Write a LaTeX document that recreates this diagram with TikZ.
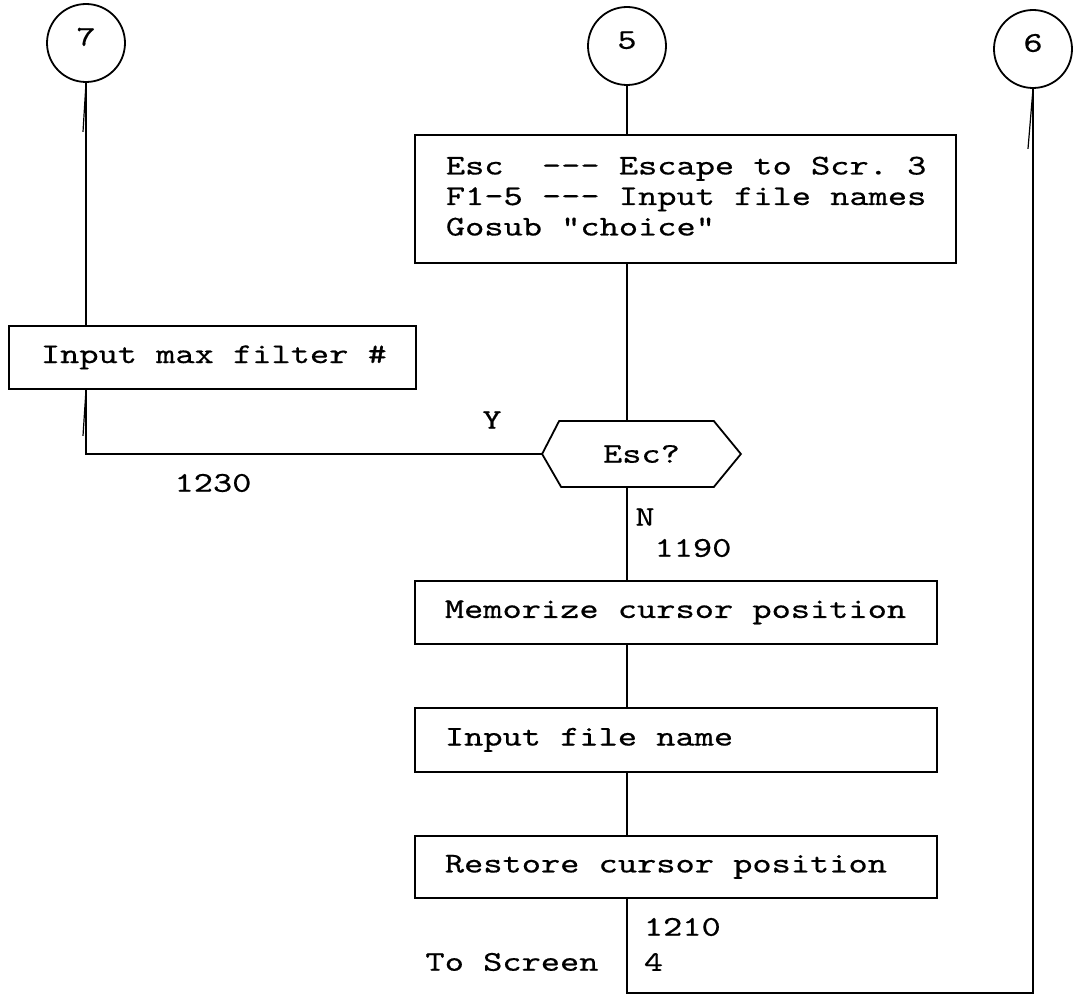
\documentclass[tikz,border=0pt]{standalone}
\usepackage{fontspec}
\newfontfamily\cmono[FakeStretch=1.28,FakeBold=0.5]{lmmono10-regular.otf}
\newcommand\tx[1]{\mbox{\spaceskip=0pt\xspaceskip=0pt #1}}
\newcommand\hy{\mbox{-}}
\newcommand\monofont{\cmono\fontsize{14.3pt}{15.25pt}\selectfont\frenchspacing
  \fontdimen3\font=0pt\fontdimen4\font=0pt\fontdimen7\font=0pt}
\begin{document}
\begin{tikzpicture}[x=0.5pt,y=-0.5pt,line width=0.9pt,
  every node/.style={font=\monofont},
  conn/.style={draw, circle, minimum size=39pt, inner sep=0pt, text height=8.75pt, text depth=6pt},
  pbox/.style={draw, rectangle, anchor=north west, inner ysep=0pt, align=left},
  lbl/.style={inner sep=0pt},
  barb/.style={line width=0.6pt}]
\useasboundingbox (0,0) rectangle (1073,1006);

% connectors (off-page)
\node[conn] (c7) at (86,43) {\tx{7}};
\node[conn] (c5) at (627,46) {\tx{5}};
\node[conn] (c6) at (1033,49) {\tx{6}};

% process boxes
\node[pbox, inner xsep=16pt, text width=171.5pt, minimum height=31.5pt] (mf) at (8,325) {\tx{Input max filter \#}};
\node[pbox, inner xsep=15.5pt, text width=239.5pt, minimum height=64pt] (eb) at (414,134)
  {\tx{\begin{tabular}{@{}l@{}}Esc\ \ \hy\hy\hy{} Escape to Scr. 3\\F1\hy5 \hy\hy\hy{} Input file names\\Gosub "choice"\end{tabular}}};
\node[pbox, inner xsep=15pt, text width=231pt, minimum height=31.5pt] (mem) at (414,580) {\tx{Memorize cursor position}};
\node[pbox, inner xsep=15pt, text width=231pt, minimum height=32pt] (inp) at (414,707) {\tx{Input file name}};
\node[pbox, inner xsep=15pt, text width=231pt, minimum height=31pt] (rst) at (414,835) {\tx{Restore cursor position}};

% decision
\node[minimum width=98.5pt, minimum height=32pt, inner sep=0pt] (esc) at (641.5,454) {\tx{Esc?}};
\draw (esc.west) -- ([xshift=8.5pt]esc.north west) -- ([xshift=-13.5pt]esc.north east) -- (esc.east)
  -- ([xshift=-13.5pt]esc.south east) -- ([xshift=9.5pt]esc.south west) -- cycle;

% lines
\coordinate (mfo) at (c7.south |- mf.south);
\coordinate (bot) at (0,993);
\draw (c7.south) -- (c7.south |- mf.north);
\draw (mfo) |- (esc.west);
\draw (c5.south) -- (c5.south |- eb.north);
\draw (c5.south |- eb.south) -- (c5.south |- esc.north);
\draw (c5.south |- esc.south) -- (c5.south |- mem.north);
\draw (c5.south |- mem.south) -- (c5.south |- inp.north);
\draw (c5.south |- inp.south) -- (c5.south |- rst.north);
\draw (c5.south |- rst.south) -- (c5.south |- bot) -| (c6.south);

% small strokes
\draw[barb] ([xshift=-1.5pt,yshift=-24.5pt]c7.south) -- (c7.south);
\draw[barb] ([xshift=-2.5pt,yshift=-30pt]c6.south) -- (c6.south);
\draw[barb] ([xshift=-1.5pt,yshift=-23pt]mfo) -- (mfo);

% labels
\node[lbl] (ly) at (492,420) {\tx{Y}};
\node[lbl] (l1230) at (213,483) {\tx{1230}};
\node[lbl] (ln) at (645,517) {\tx{N}};
\node[lbl] (l1190) at (693,548) {\tx{1190}};
\node[lbl, anchor=west] (l1210) at (643,927) {\tx{1210}};
\node[lbl, anchor=west] (l4) at (643,962) {\tx{4}};
\node[lbl] (lts) at (512,962) {\tx{To Screen}};
\end{tikzpicture}
\end{document}
